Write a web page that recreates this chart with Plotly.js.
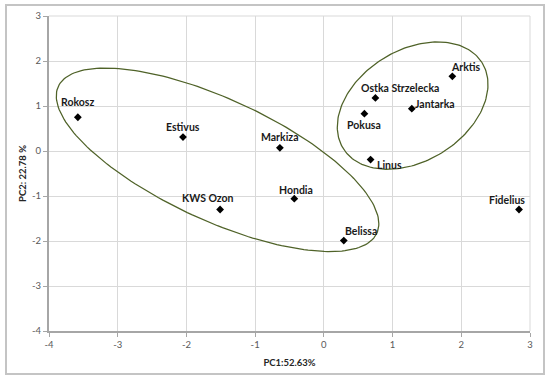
<!DOCTYPE html>
<html><head><meta charset="utf-8">
<script src="https://cdn.plot.ly/plotly-3.0.1.min.js"></script>
<style>
html,body{margin:0;padding:0;background:#fff;}
#frame{position:absolute;left:5px;top:4px;width:536px;height:367px;border:2px solid #c4c4c4;box-sizing:content-box;}
#chart{position:absolute;left:0;top:0;width:550px;height:380px;}
</style></head>
<body>
<div id="frame"></div>
<div id="chart"></div>
<script>
// Data
const cultivars = ["Rokosz","Estivus","Markiza","KWS Ozon","Hondia","Belissa","Fidelius","Arktis","Ostka Strzelecka","Jantarka","Pokusa","Linus"];
const pc1 = [-3.58,-2.05,-0.64,-1.51,-0.43,0.29,2.84,1.87,0.75,1.28,0.59,0.68];
const pc2 = [0.75,0.31,0.07,-1.30,-1.06,-1.99,-1.30,1.66,1.18,0.94,0.83,-0.19];
// label offsets in pixels (dx, dy up)
const labelDx = [0,0,0,-12,2,17,-12,14,25,23,0,19];
const labelDy = [15,10,11,12,9,10,10,9,10,5,-11,-5];
const xTicks = [-4,-3,-2,-1,0,1,2,3];
const yTicks = [-4,-3,-2,-1,0,1,2,3];
// Group ellipses: centre and two conjugate semi-axis vectors (data units)
const ellipseCentres = [[-1.547,-0.196],[1.292,1.009]];
const ellipseAxisU = [[2.318,-1.631],[1.013,0.947]];
const ellipseAxisV = [[-0.368,-1.224],[0.420,-1.053]];

const font = "Lato, 'Open Sans', sans-serif";
const traces = [];
ellipseCentres.forEach((c,i)=>{
  const xs=[], ys=[];
  for(let k=0;k<=200;k++){
    const t=2*Math.PI*k/200;
    xs.push(c[0]+ellipseAxisU[i][0]*Math.cos(t)+ellipseAxisV[i][0]*Math.sin(t));
    ys.push(c[1]+ellipseAxisU[i][1]*Math.cos(t)+ellipseAxisV[i][1]*Math.sin(t));
  }
  traces.push({x:xs,y:ys,mode:'lines',line:{color:'#4f6228',width:1.25},hoverinfo:'skip',showlegend:false});
});
traces.push({x:pc1,y:pc2,mode:'markers',marker:{symbol:'diamond',size:6,color:'#000'},text:cultivars,showlegend:false});

const annotations = cultivars.map((n,i)=>({
  x:pc1[i],y:pc2[i],xref:'x',yref:'y',text:'<b>'+n+'</b>',showarrow:false,
  xshift:labelDx[i],yshift:labelDy[i],font:{family:font,size:10.5,color:'#1a1a1a'}
}));

const layout = {
  width:550,height:380,
  paper_bgcolor:'rgba(0,0,0,0)',plot_bgcolor:'#fff',
  margin:{l:49,r:20,t:16,b:49},
  font:{family:font,size:9.5,color:'#595959'},
  xaxis:{range:[-4,3],tickvals:xTicks,ticktext:xTicks.map(String),showgrid:true,gridcolor:'#d9d9d9',gridwidth:1,
    zeroline:false,showline:true,linecolor:'#a6a6a6',linewidth:2,ticks:'outside',ticklen:4,tickcolor:'#a6a6a6',
    title:{text:'<b>PC1:52.63%</b>',font:{family:font,size:9.5,color:'#262626'},standoff:10}},
  yaxis:{range:[-4,3],tickvals:yTicks,ticktext:yTicks.map(String),showgrid:true,gridcolor:'#d9d9d9',gridwidth:1,
    zeroline:false,showline:true,linecolor:'#a6a6a6',linewidth:2,ticks:'outside',ticklen:4,tickcolor:'#a6a6a6',
    title:{text:'<b>PC2: 22.78 %</b>',font:{family:font,size:9.5,color:'#262626'},standoff:4}},
  annotations:annotations,
  shapes:[{type:'line',xref:'paper',yref:'paper',x0:1,x1:1,y0:0,y1:1,line:{color:'#d9d9d9',width:1}},
          {type:'line',xref:'paper',yref:'paper',x0:0,x1:1,y0:1,y1:1,line:{color:'#d9d9d9',width:1}}]
};
Plotly.newPlot('chart',traces,layout,{displayModeBar:false,staticPlot:true});
</script>
</body></html>
